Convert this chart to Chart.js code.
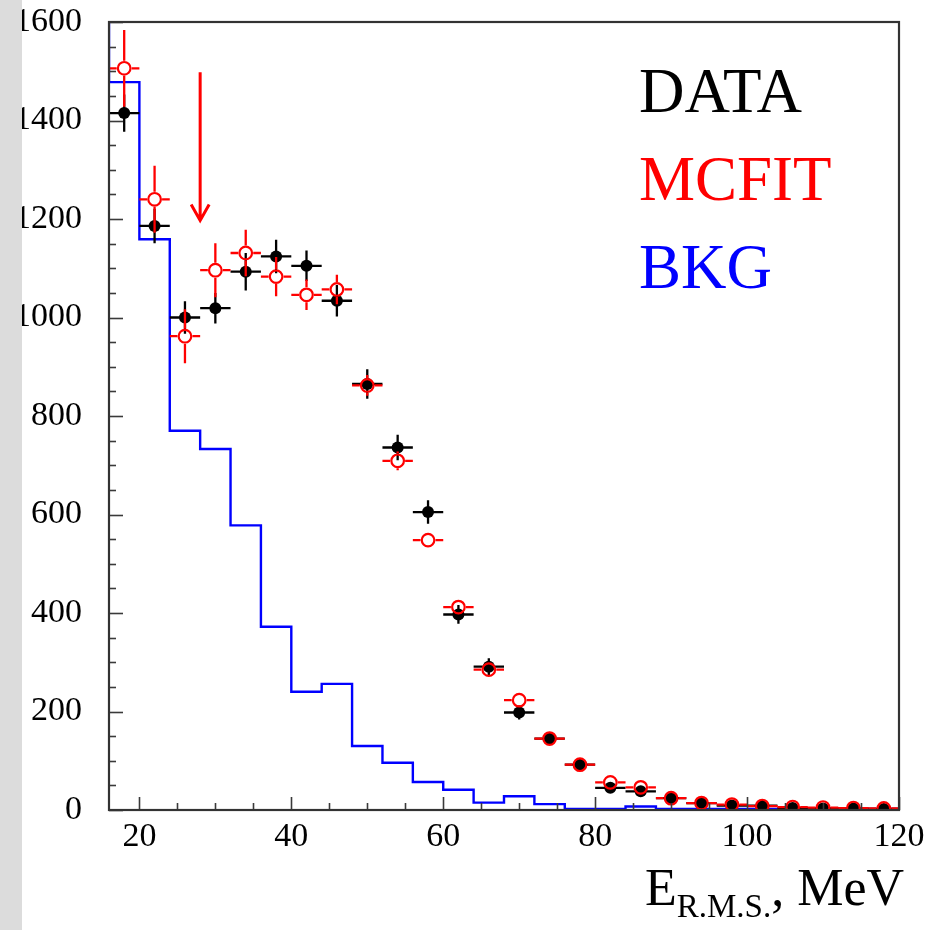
<!DOCTYPE html>
<html>
<head>
<meta charset="utf-8">
<title>E R.M.S. distribution</title>
<script src="https://cdn.jsdelivr.net/npm/chart.js@4.4.1/dist/chart.umd.min.js"></script>
<style>
  html, body { margin: 0; padding: 0; background: #ffffff; }
  #wrap { width: 942px; height: 930px; position: relative; }
</style>
</head>
<body>
<div id="wrap"><canvas id="c" width="942" height="930"></canvas></div>
<script>
// Bin centres (MeV), 4 MeV wide bins from 16 to 120
const binCenters = [18, 22, 26, 30, 34, 38, 42, 46, 50, 54, 58, 62, 66, 70, 74, 78, 82, 86, 90, 94, 98, 102, 106, 110, 114, 118];
const binHalfWidth = 2;

// Measured events with statistical errors
const dataCounts = [1415, 1186, 1000, 1019, 1093, 1124, 1105, 1034, 865, 736, 605, 397, 291, 198, 145, 92, 45, 38, 24, 14, 9, 9, 4, 3, 3, 2];
const dataErrors = [38, 35, 33, 31, 38, 34, 31, 32, 30, 26, 24, 19, 17, 14, 12, 10, 7, 6, 5, 4, 3, 3, 2, 2, 2, 1];

// Monte Carlo fit
const mcfitCounts = [1506, 1240, 962, 1096, 1131, 1083, 1046, 1057, 862, 709, 548, 412, 285, 223, 145, 92, 56, 46, 24, 14, 11, 8, 6, 5, 4, 3];
const mcfitErrors = [78, 68, 55, 55, 47, 40, 31, 30, 21, 19, 12, 10, 8, 6, 5, 4, 3, 3, 2, 2, 2, 2, 1, 1, 1, 1];

// Background histogram: lower bin edges (first entry is the bin below the axis range)
const bkgLowEdges = [12, 16, 20, 24, 28, 32, 36, 40, 44, 48, 52, 56, 60, 64, 68, 72, 76, 80, 84, 88, 92, 96, 100, 104, 108, 112, 116, 120];
const bkgCounts = [1720, 1478, 1159, 770, 733, 578, 372, 240, 256, 130, 96, 57, 41, 15, 28, 12, 2, 2, 7, 2, 2, 2, 2, 2, 2, 2, 2, 2];

// Axis tick labels
const xTickValues = [20, 40, 60, 80, 100, 120];
const yTickValues = [0, 200, 400, 600, 800, 1000, 1200, 1400, 1600];

// Cut marker
const cutValue = 28;
const cutArrowFrom = 1498;
const cutArrowTo = 1197;

const legendEntries = [
  { text: 'DATA', color: '#000000' },
  { text: 'MCFIT', color: '#ff0000' },
  { text: 'BKG', color: '#0000ff' }
];

const SERIF = '"Liberation Serif", "DejaVu Serif", serif';

function toPoints(xs, ys) {
  return xs.map((x, i) => ({ x: x, y: ys[i] }));
}

// Error bars drawn just before each point dataset
const errorBarPlugin = {
  id: 'errorBars',
  beforeDatasetDraw(chart, args) {
    const ds = chart.data.datasets[args.index];
    if (!ds.errors) return;
    const ctx = chart.ctx;
    const xs = chart.scales.x, ys = chart.scales.y;
    const area = chart.chartArea;
    ctx.save();
    ctx.beginPath();
    ctx.rect(area.left, area.top, area.right - area.left, area.bottom - area.top);
    ctx.clip();
    ctx.strokeStyle = ds.errorColor;
    ctx.lineWidth = 2.3;
    ctx.lineCap = 'butt';
    const gap = ds.errorGap || 0;
    ds.data.forEach((p, i) => {
      const e = ds.errors[i];
      const px = xs.getPixelForValue(p.x);
      const py = ys.getPixelForValue(p.y);
      const xl = xs.getPixelForValue(p.x - binHalfWidth);
      const xr = xs.getPixelForValue(p.x + binHalfWidth);
      const yt = ys.getPixelForValue(p.y + e);
      const yb = ys.getPixelForValue(p.y - e);
      ctx.beginPath();
      ctx.moveTo(xl, py); ctx.lineTo(px - gap, py);
      ctx.moveTo(px + gap, py); ctx.lineTo(xr, py);
      if (py - yt > gap) { ctx.moveTo(px, yt); ctx.lineTo(px, py - gap); }
      if (yb - py > gap) { ctx.moveTo(px, py + gap); ctx.lineTo(px, yb); }
      ctx.stroke();
    });
    ctx.restore();
  }
};

// Frame with inward ticks, cut arrow, legend text and axis title
const framePlugin = {
  id: 'frame',
  afterDatasetsDraw(chart) {
    const ctx = chart.ctx;
    const xs = chart.scales.x, ys = chart.scales.y;
    const a = chart.chartArea;
    ctx.save();
    ctx.strokeStyle = '#3a3a3a';
    ctx.lineWidth = 1.6;
    for (let v = 0; v <= 1600; v += 50) {
      const y = Math.round(ys.getPixelForValue(v)) + 0.5;
      const len = v % 200 === 0 ? 14 : 7;
      ctx.beginPath(); ctx.moveTo(a.left, y); ctx.lineTo(a.left + len, y); ctx.stroke();
    }
    for (let v = 20; v <= 120; v += 5) {
      const x = Math.round(xs.getPixelForValue(v)) + 0.5;
      const len = v % 20 === 0 ? 13 : 7;
      ctx.beginPath(); ctx.moveTo(x, a.bottom); ctx.lineTo(x, a.bottom - len); ctx.stroke();
    }
    ctx.lineWidth = 2.2;
    ctx.strokeStyle = '#333333';
    ctx.strokeRect(a.left, a.top, a.right - a.left, a.bottom - a.top);
    ctx.restore();
  },
  afterDraw(chart) {
    const ctx = chart.ctx;
    const xs = chart.scales.x, ys = chart.scales.y;
    ctx.save();

    // cut arrow
    const ax = xs.getPixelForValue(cutValue);
    const ay1 = ys.getPixelForValue(cutArrowFrom);
    const ay2 = ys.getPixelForValue(cutArrowTo);
    ctx.strokeStyle = '#ff0000';
    ctx.lineWidth = 3;
    ctx.beginPath();
    ctx.moveTo(ax, ay1); ctx.lineTo(ax, ay2);
    ctx.moveTo(ax - 9, ay2 - 16); ctx.lineTo(ax, ay2); ctx.lineTo(ax + 9, ay2 - 16);
    ctx.stroke();

    // legend
    ctx.textAlign = 'left';
    ctx.textBaseline = 'alphabetic';
    ctx.font = '63px ' + SERIF;
    legendEntries.forEach((e, i) => {
      ctx.fillStyle = e.color;
      ctx.fillText(e.text, 639, 112 + i * 88);
    });

    // x axis title with subscript
    ctx.fillStyle = '#000000';
    let tx = 645;
    ctx.font = '52px ' + SERIF;
    ctx.fillText('E', tx, 905);
    tx += ctx.measureText('E').width;
    ctx.font = '33px ' + SERIF;
    ctx.fillText('R.M.S.', tx, 917);
    tx += ctx.measureText('R.M.S.').width;
    ctx.font = '52px ' + SERIF;
    ctx.fillText(', MeV', tx, 905);

    // grey margin strip
    ctx.fillStyle = '#dcdcdc';
    ctx.fillRect(0, 0, 22, chart.height);
    ctx.restore();
  }
};

new Chart(document.getElementById('c'), {
  type: 'scatter',
  data: {
    datasets: [
      {
        label: 'MCFIT',
        data: toPoints(binCenters, mcfitCounts),
        errors: mcfitErrors,
        errorColor: '#ff0000',
        errorGap: 7.5,
        pointRadius: 6.3,
        pointBorderWidth: 2.2,
        pointBorderColor: '#ff0000',
        pointBackgroundColor: 'rgba(255,255,255,0)',
        showLine: false
      },
      {
        label: 'DATA',
        data: toPoints(binCenters, dataCounts),
        errors: dataErrors,
        errorColor: '#000000',
        errorGap: 0,
        pointRadius: 6,
        pointBorderWidth: 0,
        pointBorderColor: '#000000',
        pointBackgroundColor: '#000000',
        showLine: false
      },
      {
        label: 'BKG',
        type: 'line',
        data: toPoints(bkgLowEdges, bkgCounts),
        stepped: 'before',
        borderColor: '#0000ff',
        borderWidth: 2.4,
        pointRadius: 0,
        fill: false,
        showLine: true
      }
    ]
  },
  options: {
    responsive: false,
    animation: false,
    events: [],
    layout: { padding: { top: 22, right: 43, left: 0, bottom: 0 } },
    plugins: {
      legend: { display: false },
      tooltip: { enabled: false }
    },
    scales: {
      x: {
        type: 'linear',
        min: 16,
        max: 120,
        grid: { display: false, drawTicks: false },
        border: { display: false },
        afterBuildTicks(scale) { scale.ticks = xTickValues.map(v => ({ value: v })); },
        afterFit(scale) {
          scale.height = 120;
          scale.paddingLeft = 0; scale.paddingRight = 0;
          scale.paddingTop = 0; scale.paddingBottom = 0;
        },
        ticks: {
          color: '#000000',
          padding: 7,
          maxRotation: 0,
          font: { family: SERIF, size: 34 },
          callback: (v) => String(v)
        }
      },
      y: {
        type: 'linear',
        min: 0,
        max: 1600,
        grid: { display: false, drawTicks: false },
        border: { display: false },
        afterBuildTicks(scale) { scale.ticks = yTickValues.map(v => ({ value: v })); },
        afterFit(scale) {
          scale.width = 109;
          scale.paddingLeft = 0; scale.paddingRight = 0;
          scale.paddingTop = 0; scale.paddingBottom = 0;
        },
        ticks: {
          color: '#000000',
          padding: 27,
          font: { family: SERIF, size: 34 },
          callback: (v) => String(v)
        }
      }
    }
  },
  plugins: [errorBarPlugin, framePlugin]
});
</script>
</body>
</html>
